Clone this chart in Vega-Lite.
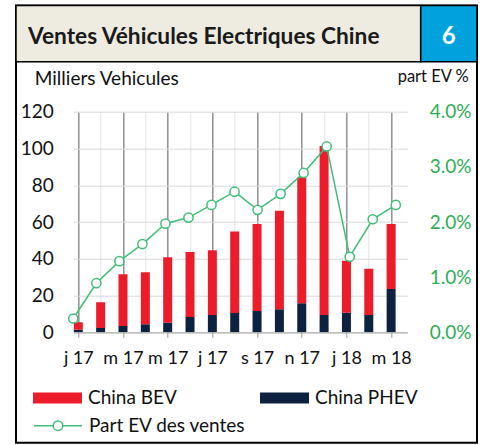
{
  "$schema": "https://vega.github.io/schema/vega-lite/v6.json",
  "width": 334,
  "height": 220.6,
  "autosize": {"type": "none"},
  "padding": {"left": 73.3, "top": 111.7, "right": 76.7, "bottom": 112.7},
  "background": "white",
  "config": {
    "font": "Lato",
    "view": {"stroke": null},
    "axis": {"labelFont": "Lato", "titleFont": "Lato"},
    "legend": {"labelFont": "Lato"}
  },
  "data": {
    "values": [
      {"mois": "2017-01", "idx": 0, "China BEV": 4.0, "China PHEV": 1.4, "part": 0.0025},
      {"mois": "2017-02", "idx": 1, "China BEV": 14.0, "China PHEV": 2.3, "part": 0.0089},
      {"mois": "2017-03", "idx": 2, "China BEV": 28.2, "China PHEV": 3.4, "part": 0.0129},
      {"mois": "2017-04", "idx": 3, "China BEV": 28.2, "China PHEV": 4.4, "part": 0.016},
      {"mois": "2017-05", "idx": 4, "China BEV": 35.6, "China PHEV": 5.2, "part": 0.0197},
      {"mois": "2017-06", "idx": 5, "China BEV": 35.4, "China PHEV": 8.3, "part": 0.0208},
      {"mois": "2017-07", "idx": 6, "China BEV": 35.2, "China PHEV": 9.4, "part": 0.0231},
      {"mois": "2017-08", "idx": 7, "China BEV": 44.4, "China PHEV": 10.5, "part": 0.0255},
      {"mois": "2017-09", "idx": 8, "China BEV": 47.3, "China PHEV": 11.6, "part": 0.0222},
      {"mois": "2017-10", "idx": 9, "China BEV": 53.6, "China PHEV": 12.5, "part": 0.0251},
      {"mois": "2017-11", "idx": 10, "China BEV": 68.5, "China PHEV": 15.8, "part": 0.0289},
      {"mois": "2017-12", "idx": 11, "China BEV": 91.9, "China PHEV": 9.4, "part": 0.0337},
      {"mois": "2018-01", "idx": 12, "China BEV": 28.2, "China PHEV": 10.7, "part": 0.0137},
      {"mois": "2018-02", "idx": 13, "China BEV": 25.2, "China PHEV": 9.4, "part": 0.0205},
      {"mois": "2018-03", "idx": 14, "China BEV": 35.3, "China PHEV": 23.6, "part": 0.0231}
    ]
  },
  "layer": [
    {
      "data": {"values": [{"titre": "Ventes Véhicules Electriques Chine", "num": "6"}]},
      "layer": [
        {
          "mark": {"type": "rect", "fill": "transparent", "stroke": "black", "strokeWidth": 2},
          "encoding": {
            "x": {"datum": -2.4876, "scale": {"domain": [0, 14.5], "nice": false, "zero": false}, "axis": null},
            "x2": {"datum": 17.526},
            "y": {"datum": 177.77, "scale": {"domain": [0, 120], "nice": false, "zero": false}, "axis": null},
            "y2": {"datum": -60.05}
          }
        },
        {
          "mark": {"type": "rect", "fill": "#EEEBE1", "stroke": "black", "strokeWidth": 1.5},
          "encoding": {"x": {"datum": -2.4876, "axis": null}, "x2": {"datum": 15.082}, "y": {"datum": 177.77, "axis": null}, "y2": {"datum": 147.2}}
        },
        {
          "mark": {"type": "rect", "fill": "#00A2DE", "stroke": "black", "strokeWidth": 1.5},
          "encoding": {"x": {"datum": 15.082, "axis": null}, "x2": {"datum": 17.526}, "y": {"datum": 177.77, "axis": null}, "y2": {"datum": 147.2}}
        },
        {
          "mark": {"type": "text", "align": "left", "baseline": "alphabetic", "font": "Lato", "fontSize": 22.7, "fontWeight": "bold", "color": "#1a1a1a"},
          "encoding": {"x": {"datum": -1.9666, "axis": null}, "y": {"datum": 156.83, "axis": null}, "text": {"field": "titre"}}
        },
        {
          "mark": {"type": "text", "align": "center", "baseline": "alphabetic", "font": "Lato", "fontSize": 24, "fontWeight": "bold", "color": "white"},
          "encoding": {"x": {"datum": 16.3, "axis": null}, "y": {"datum": 156.83, "axis": null}, "text": {"field": "num"}}
        }
      ]
    },
    {
      "transform": [{"fold": ["China PHEV", "China BEV"], "as": ["serie", "ventes"]}],
      "mark": {"type": "bar", "size": 9, "clip": true},
      "encoding": {
        "x": {
          "field": "idx", "type": "quantitative",
          "scale": {"domain": [0, 14.5], "nice": false, "zero": false},
          "axis": {
            "title": null,
            "values": [0,1,2,3,4,5,6,7,8,9,10,11,12,13,14],
            "labelExpr": "datum.value % 2 == 0 ? ['j 17','m 17','m 17','j 17','s 17','n 17','j 18','m 18'][datum.value/2] : ''",
            "grid": true,
            "gridColor": {"condition": {"test": "datum.value % 2 == 0", "value": "#8f8f8f"}, "value": "#e3e3e3"},
            "gridWidth": {"condition": {"test": "datum.value % 2 == 0", "value": 1.5}, "value": 1},
            "tickColor": {"condition": {"test": "datum.value % 2 == 0", "value": "#999999"}, "value": "transparent"},
            "tickSize": 5,
            "domainColor": "#a6a6a6",
            "labelPadding": 12,
            "labelFontSize": 18,
            "labelColor": "#111111",
            "labelFlush": false,
            "labelOverlap": false,
            "labelBound": false
          }
        },
        "y": {
          "field": "ventes", "type": "quantitative", "stack": "zero",
          "scale": {"domain": [0, 120], "nice": false},
          "axis": {
            "values": [0, 20, 40, 60, 80, 100, 120],
            "grid": true, "gridColor": "#d9d9d9",
            "domain": false, "ticks": false, "tickSize": 0,
            "labelOverlap": false, "labelFlush": false, "labelBound": false,
            "labelPadding": 20, "labelFontSize": 19, "labelColor": "#111111",
            "title": "Milliers Vehicules", "titleAngle": 0, "titleAlign": "left", "titleBaseline": "alphabetic",
            "titleX": -39, "titleY": -27.7, "titleFontSize": 19, "titleFontWeight": "normal", "titleColor": "#111111"
          }
        },
        "color": {
          "field": "serie", "type": "nominal",
          "scale": {"domain": ["China BEV", "China PHEV"], "range": ["#EC1C2B", "#0D2240"]},
          "legend": {
            "orient": "none", "legendX": -40.3, "legendY": 261.5, "direction": "horizontal", "columns": 2,
            "columnPadding": 83, "symbolType": "M-1,-0.224H1V0.224H-1Z", "symbolSize": 2401, "symbolStrokeWidth": 0,
            "labelFontSize": 19, "labelOffset": 6, "labelColor": "#111111", "title": null, "padding": 0
          }
        },
        "order": {"field": "serie", "sort": "descending"}
      }
    },
    {
      "layer": [
        {
          "mark": {"type": "line", "strokeWidth": 1.5},
          "encoding": {
            "x": {"field": "idx", "type": "quantitative", "scale": {"domain": [0, 14.5], "nice": false, "zero": false}, "axis": null},
            "y": {
              "field": "part", "type": "quantitative",
              "scale": {"domain": [0, 0.04], "nice": false},
              "axis": {
                "orient": "right", "values": [0, 0.01, 0.02, 0.03, 0.04], "format": ".1%",
                "grid": false, "domain": false, "ticks": false, "tickSize": 0,
                "labelOverlap": false, "labelFlush": false, "labelBound": false,
                "labelPadding": 22, "labelFontSize": 19, "labelColor": "#2CAE55",
                "title": "part EV %", "titleAngle": 0, "titleAlign": "right", "titleBaseline": "alphabetic",
                "titleX": 61, "titleY": -30.5, "titleFontSize": 16.5, "titleFontWeight": "normal", "titleColor": "#111111"
              }
            },
            "stroke": {
              "datum": "Part EV des ventes",
              "scale": {"range": ["#41BE77"]},
              "legend": {
                "orient": "none", "legendX": -40.3, "legendY": 289,
                "symbolType": "M-1,0H-0.2M0.2,0H1M-0.2,0A0.2,0.2 0 1,1 0.2,0A0.2,0.2 0 1,1 -0.2,0",
                "symbolSize": 2304, "symbolStrokeWidth": 1.5, "symbolFillColor": "white",
                "labelFontSize": 19, "labelOffset": 6, "labelColor": "#111111", "title": null, "padding": 0
              }
            }
          }
        },
        {
          "mark": {"type": "point", "filled": true, "fill": "white", "stroke": "#41BE77", "strokeWidth": 1.5, "size": 85, "opacity": 1},
          "encoding": {
            "x": {"field": "idx", "type": "quantitative"},
            "y": {"field": "part", "type": "quantitative"}
          }
        }
      ]
    }
  ],
  "resolve": {"scale": {"x": "independent", "y": "independent"}}
}
